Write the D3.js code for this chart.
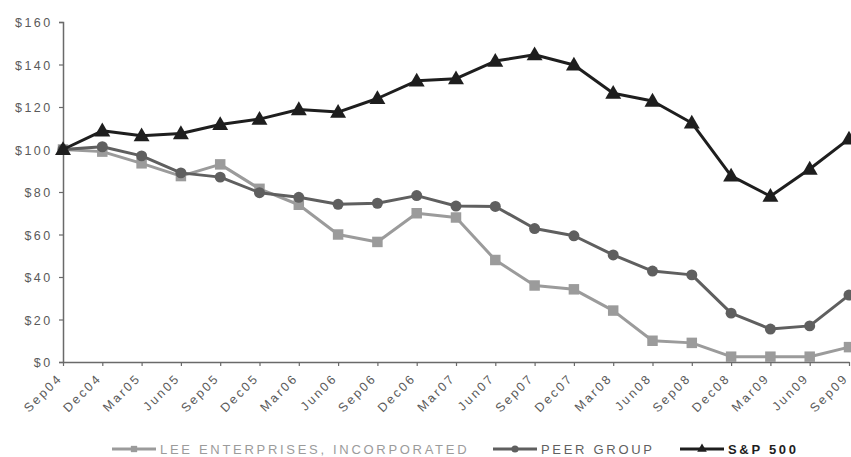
<!DOCTYPE html>
<html>
<head>
<meta charset="utf-8">
<script src="https://cdn.jsdelivr.net/npm/d3@7"></script>
<style>
  body { margin: 0; background: #fff; }
  svg { display: block; font-family: "Liberation Sans", Arial, sans-serif; }
</style>
</head>
<body>
<div id="chart"></div>
<script>
const periods = ["Sep04","Dec04","Mar05","Jun05","Sep05","Dec05","Mar06","Jun06","Sep06","Dec06",
  "Mar07","Jun07","Sep07","Dec07","Mar08","Jun08","Sep08","Dec08","Mar09","Jun09","Sep09"];
const leeValues = [100, 99, 93.5, 87.5, 93, 81.5, 74, 60, 56.5, 70, 68, 48, 36, 34.2, 24.2, 10, 9, 2.5, 2.5, 2.5, 7];
const peerValues = [100, 101.3, 97, 89, 87, 79.7, 77.5, 74.2, 74.7, 78.3, 73.4, 73.2, 62.8, 59.4, 50.4, 42.8, 41, 23, 15.5, 17, 31.5];
const spValues = [100, 108.8, 106.5, 107.5, 111.8, 114.3, 118.8, 117.6, 124, 132.3, 133.3, 141.6, 144.6, 139.8, 126.5, 122.8, 112.5, 87.6, 78, 90.8, 105];
const yTicks = [0, 20, 40, 60, 80, 100, 120, 140, 160];
const seriesNames = ["LEE ENTERPRISES, INCORPORATED", "PEER GROUP", "S&P 500"];

const W = 851, H = 457;
const x = d3.scalePoint().domain(periods).range([63, 849]);
const y = d3.scaleLinear().domain([0, 160]).range([362, 22]);

const svg = d3.select("#chart").append("svg").attr("width", W).attr("height", H);

const AXIS = "#6a6a6a";
const LABEL = "#5a5a5a";

// y axis
const yAxis = svg.append("g").attr("transform", "translate(63,0)")
  .call(d3.axisLeft(y).tickValues(yTicks).tickSize(4).tickFormat(d => "$" + d));
yAxis.select(".domain").attr("stroke", AXIS).attr("stroke-width", 1.5);
yAxis.selectAll(".tick line").attr("stroke", AXIS).attr("stroke-width", 1.2);
yAxis.selectAll(".tick text")
  .attr("x", -10.5).attr("dy", "0.36em")
  .attr("fill", LABEL).style("font-size", "12.5px").style("letter-spacing", "2.4px");

// x axis
const xAxis = svg.append("g").attr("transform", "translate(0,362)")
  .call(d3.axisBottom(x).tickSize(4).tickSizeOuter(0));
xAxis.select(".domain").attr("stroke", AXIS).attr("stroke-width", 1.5);
xAxis.selectAll(".tick line").attr("stroke", AXIS).attr("stroke-width", 1.2);
xAxis.selectAll(".tick text")
  .attr("fill", LABEL).style("font-size", "12.5px").style("letter-spacing", "2.4px")
  .attr("text-anchor", "end")
  .attr("x", 0).attr("y", 0).attr("dy", 0)
  .attr("transform", "translate(-0.5,17) rotate(-45)");

const series = [
  { name: seriesNames[0], values: leeValues, color: "#9b9b9b", shape: "square" },
  { name: seriesNames[1], values: peerValues, color: "#5f5f5f", shape: "circle" },
  { name: seriesNames[2], values: spValues, color: "#1e1e1e", shape: "triangle" }
];

const line = d3.line().x((d, i) => x(periods[i])).y(d => y(d));

function symbolPath(shape, size) {
  const t = shape === "square" ? d3.symbolSquare : shape === "circle" ? d3.symbolCircle : d3.symbolTriangle;
  return d3.symbol().type(t).size(size)();
}
const sizes = { square: 110, circle: 95, triangle: 110 };

series.forEach(s => {
  svg.append("path").datum(s.values)
    .attr("d", line).attr("fill", "none")
    .attr("stroke", s.color).attr("stroke-width", 3).attr("stroke-linejoin", "round");
  svg.append("g").selectAll("path").data(s.values).join("path")
    .attr("d", symbolPath(s.shape, sizes[s.shape]))
    .attr("transform", (d, i) => `translate(${x(periods[i])},${y(d) + (s.shape === "triangle" ? 1 : 0)})`)
    .attr("fill", s.color);
});

// legend
const legendX = [112, 493, 680];
const legendY = 449;
series.forEach((s, i) => {
  const lg = svg.append("g").attr("transform", `translate(${legendX[i]},${legendY})`);
  lg.append("line").attr("x1", 0).attr("x2", 44).attr("y1", 0).attr("y2", 0)
    .attr("stroke", s.color).attr("stroke-width", 3);
  lg.append("path").attr("d", symbolPath(s.shape, 40))
    .attr("transform", "translate(22,0)").attr("fill", s.color);
  lg.append("text").attr("x", 48).attr("y", 0).attr("dy", "0.36em")
    .style("font-size", "13px").style("letter-spacing", "2.7px")
    .style("font-weight", i === 2 ? "700" : "400")
    .attr("fill", s.color)
    .text(s.name);
});
</script>
</body>
</html>
